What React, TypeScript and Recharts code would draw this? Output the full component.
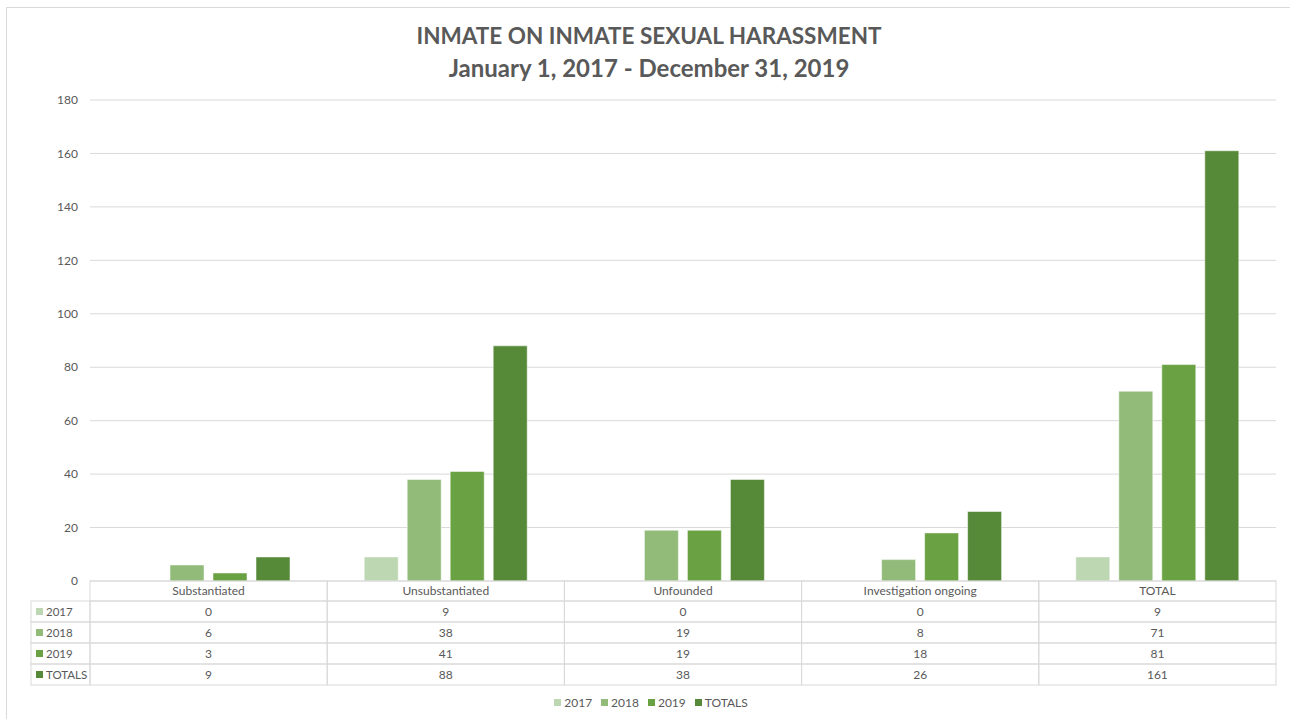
import React from "react";
import { BarChart, Bar, XAxis, YAxis, CartesianGrid } from "recharts";

const categories = [
  "Substantiated",
  "Unsubstantiated",
  "Unfounded",
  "Investigation ongoing",
  "TOTAL",
];
const values2017 = [0, 9, 0, 0, 9];
const values2018 = [6, 38, 19, 8, 71];
const values2019 = [3, 41, 19, 18, 81];
const valuesTotals = [9, 88, 38, 26, 161];
const yTicks = [0, 20, 40, 60, 80, 100, 120, 140, 160, 180];

const series = [
  { key: "y2017", label: "2017", color: "#bdd7b2", values: values2017 },
  { key: "y2018", label: "2018", color: "#92bb7a", values: values2018 },
  { key: "y2019", label: "2019", color: "#6aa243", values: values2019 },
  { key: "totals", label: "TOTALS", color: "#568938", values: valuesTotals },
];

const data = categories.map((name, i) => {
  const row: Record<string, string | number> = { name };
  series.forEach((s) => (row[s.key] = s.values[i]));
  return row;
});

const W = 1290;
const H = 719;
const M = { top: 100, right: 14, bottom: 0, left: 30 };
const Y_W = 60;
const X_H = 138;
const PLOT_L = M.left + Y_W;
const PLOT_R = W - M.right;
const PLOT_B = H - M.bottom - X_H;
const BAND = (PLOT_R - PLOT_L) / categories.length;
const HEAD_H = 20;
const ROW_H = 21;
const LABEL_L = 31;

const GRID = "#d9d9d9";
const TEXT = "#595959";
const FONT = "Lato, 'Open Sans', sans-serif";

type TickProps = { x?: number; payload?: { value: string; index: number } };

function TableTick({ x = 0, payload }: TickProps) {
  if (!payload) return null;
  const i = payload.index;
  const left = x - BAND / 2;
  return (
    <g fontFamily={FONT} fontSize={12} fill={TEXT}>
      <rect x={left} y={PLOT_B} width={BAND} height={HEAD_H} fill="none" stroke={GRID} />
      <text x={x} y={PLOT_B + HEAD_H / 2 + 4} textAnchor="middle">
        {payload.value}
      </text>
      {series.map((s, r) => {
        const top = PLOT_B + HEAD_H + r * ROW_H;
        return (
          <g key={s.key}>
            <rect x={left} y={top} width={BAND} height={ROW_H} fill="none" stroke={GRID} />
            <text x={x} y={top + ROW_H / 2 + 4} textAnchor="middle">
              {s.values[i]}
            </text>
            {i === 0 && (
              <g>
                <rect x={LABEL_L} y={top} width={left - LABEL_L} height={ROW_H} fill="none" stroke={GRID} />
                <rect x={LABEL_L + 5} y={top + 7} width={7} height={7} fill={s.color} />
                <text x={LABEL_L + 15} y={top + ROW_H / 2 + 4} textAnchor="start" fontSize={11.5}>
                  {s.label}
                </text>
              </g>
            )}
          </g>
        );
      })}
    </g>
  );
}

export default function App() {
  return (
    <div style={{ position: "absolute", left: 0, top: 0, width: W, height: H, overflow: "hidden", background: "#fff" }}>
      <div
        style={{
          position: "absolute",
          left: 6,
          top: 7,
          width: W,
          height: H,
          border: `1px solid ${GRID}`,
        }}
      />
      <div
        style={{
          position: "absolute",
          left: 0,
          width: W,
          top: 20,
          textAlign: "center",
          fontFamily: FONT,
          fontWeight: 700,
          color: TEXT,
          paddingLeft: 8,
          boxSizing: "border-box",
        }}
      >
        <div style={{ fontSize: 22.5, lineHeight: "32px" }}>INMATE ON INMATE SEXUAL HARASSMENT</div>
        <div style={{ fontSize: 24, lineHeight: "32px" }}>January 1, 2017 - December 31, 2019</div>
      </div>
      <div style={{ position: "absolute", left: 0, top: 0 }}>
        <BarChart
          width={W}
          height={H}
          data={data}
          margin={M}
          barCategoryGap="15.6%"
          barGap={9}
        >
          <CartesianGrid vertical={false} stroke={GRID} />
          <XAxis
            dataKey="name"
            height={X_H}
            axisLine={false}
            tickLine={false}
            interval={0}
            tick={<TableTick />}
          />
          <YAxis
            width={Y_W}
            domain={[0, 180]}
            ticks={yTicks}
            axisLine={false}
            tickLine={false}
            tickMargin={6}
            tick={{ fill: TEXT, fontSize: 12, fontFamily: FONT }}
          />
          {series.map((s) => (
            <Bar
              key={s.key}
              dataKey={s.key}
              fill={s.color}
              stroke="#ffffff"
              strokeOpacity={0.5}
              isAnimationActive={false}
            />
          ))}
        </BarChart>
      </div>
      <div
        style={{
          position: "absolute",
          left: 0,
          width: W,
          top: 695,
          display: "flex",
          justifyContent: "center",
          gap: 9,
          fontFamily: FONT,
          fontSize: 12,
          color: TEXT,
          paddingLeft: 12,
          boxSizing: "border-box",
        }}
      >
        {series.map((s) => (
          <div key={s.key} style={{ display: "flex", alignItems: "center", gap: 3 }}>
            <span style={{ display: "inline-block", width: 7, height: 7, background: s.color }} />
            <span>{s.label}</span>
          </div>
        ))}
      </div>
    </div>
  );
}
